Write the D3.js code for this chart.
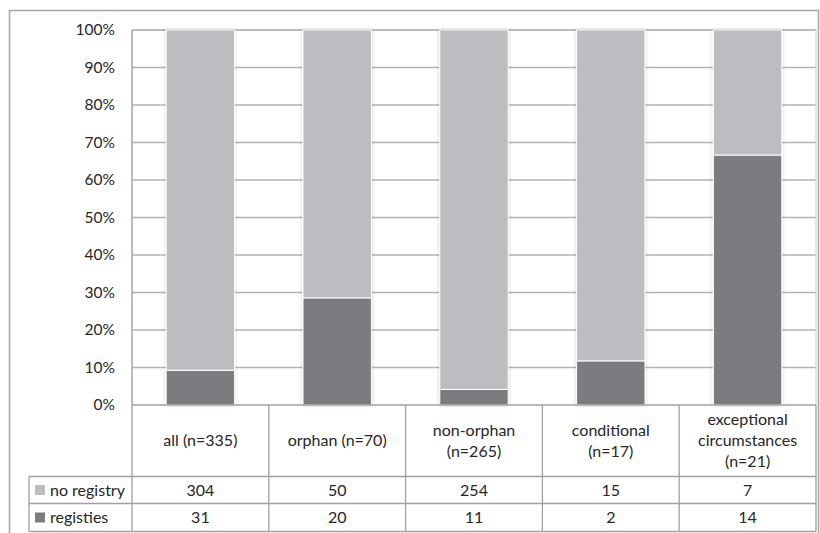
<!DOCTYPE html>
<html>
<head>
<meta charset="utf-8">
<script src="https://cdn.jsdelivr.net/npm/d3@7"></script>
<style>
  html, body { margin: 0; padding: 0; background: #ffffff; }
  svg { display: block; font-family: Lato, "Open Sans", sans-serif; }
</style>
</head>
<body>
<svg id="chart" width="820" height="533"></svg>
<script>
// Categories (multi-line labels) and counts per series
const categories = ["all", "orphan", "non-orphan", "conditional", "exceptional"];
const categoryLabels = [
  ["all (n=335)"],
  ["orphan (n=70)"],
  ["non-orphan", "(n=265)"],
  ["conditional", "(n=17)"],
  ["exceptional", "circumstances", "(n=21)"]
];
const seriesNames = ["no registry", "registies"];
const noRegistry = [304, 50, 254, 15, 7];
const registies = [31, 20, 11, 2, 14];
const yTicks = [0, 0.1, 0.2, 0.3, 0.4, 0.5, 0.6, 0.7, 0.8, 0.9, 1.0];

const colors = { "no registry": "#bcbdc0", "registies": "#7b7c80" };
const textColor = "#262626";
const tableFont = 16;

const svg = d3.select("#chart");
const plot = { left: 132, right: 816, top: 30, bottom: 405 };
const table = { legendLeft: 29, headerBottom: 476.5, row1Bottom: 503.5, row2Bottom: 531.5 };

// Outer frame
svg.append("rect")
  .attr("x", 9.5).attr("y", 10.5)
  .attr("width", 809).attr("height", 540)
  .attr("fill", "none").attr("stroke", "#a6a6a6").attr("stroke-width", 1.5);

// Soft shadow around the columns
const defs = svg.append("defs");
const f = defs.append("filter").attr("id", "glow")
  .attr("x", "-20%").attr("y", "-5%").attr("width", "140%").attr("height", "110%");
f.append("feGaussianBlur").attr("in", "SourceAlpha").attr("stdDeviation", 2).attr("result", "b");
f.append("feComponentTransfer").attr("in", "b").attr("result", "bs")
  .append("feFuncA").attr("type", "linear").attr("slope", 0.18);
const m = f.append("feMerge");
m.append("feMergeNode").attr("in", "bs");
m.append("feMergeNode").attr("in", "SourceGraphic");

// Scales
const x = d3.scaleBand().domain(categories).range([plot.left, plot.right])
  .paddingInner(0.5).paddingOuter(0.25);
const y = d3.scaleLinear().domain([0, 1]).range([plot.bottom, plot.top]);

// Gridlines
svg.append("g").selectAll("line").data(yTicks.filter(t => t > 0 && t < 1)).join("line")
  .attr("x1", plot.left).attr("x2", plot.right)
  .attr("y1", d => y(d)).attr("y2", d => y(d))
  .attr("stroke", "#b3b3b3").attr("stroke-width", 1.5);

// Plot frame (top, left, right)
svg.append("line").attr("x1", plot.left).attr("x2", plot.right)
  .attr("y1", plot.top).attr("y2", plot.top)
  .attr("stroke", "#a6a6a6").attr("stroke-width", 1.5);
svg.append("line").attr("x1", plot.left).attr("x2", plot.left)
  .attr("y1", plot.top).attr("y2", plot.bottom)
  .attr("stroke", "#a6a6a6").attr("stroke-width", 1.5);
svg.append("line").attr("x1", plot.right).attr("x2", plot.right)
  .attr("y1", plot.top).attr("y2", plot.bottom)
  .attr("stroke", "#d0d0d0").attr("stroke-width", 1);

// Stacked 100% columns
const rows = categories.map((c, i) => ({
  cat: c,
  "registies": registies[i] / (registies[i] + noRegistry[i]),
  "no registry": noRegistry[i] / (registies[i] + noRegistry[i])
}));
const stack = d3.stack().keys(["registies", "no registry"])(rows);

svg.append("g").attr("filter", "url(#glow)")
  .selectAll("g").data(stack).join("g")
  .attr("fill", d => colors[d.key])
  .selectAll("rect").data(d => d).join("rect")
  .attr("x", d => x(d.data.cat))
  .attr("width", x.bandwidth())
  .attr("y", d => y(d[1]))
  .attr("height", d => y(d[0]) - y(d[1]))
  .attr("stroke", "#ffffff").attr("stroke-width", 1);

// Y axis labels
const yAxis = d3.axisLeft(y).tickValues(yTicks).tickFormat(d3.format(".0%")).tickSize(0).tickPadding(17);
const ya = svg.append("g").attr("transform", `translate(${plot.left},0)`).call(yAxis);
ya.select(".domain").remove();
ya.selectAll("text").attr("font-size", 15.5).attr("fill", textColor)
  .attr("font-family", "Lato, 'Open Sans', sans-serif");

// Data table grid
const gridColor = "#a0a0a0";
const tg = svg.append("g").attr("stroke", gridColor).attr("stroke-width", 1.3);
tg.append("line").attr("x1", plot.left).attr("x2", plot.right).attr("y1", plot.bottom).attr("y2", plot.bottom);
[table.headerBottom, table.row1Bottom, table.row2Bottom].forEach(yy => {
  tg.append("line").attr("x1", table.legendLeft).attr("x2", plot.right).attr("y1", yy).attr("y2", yy);
});
const bounds = categories.map(c => x(c) - x.step() * x.paddingInner() / 2);
bounds[0] = plot.left;
bounds.push(plot.right);
bounds.forEach(bx => {
  tg.append("line").attr("x1", bx).attr("x2", bx).attr("y1", plot.bottom).attr("y2", table.row2Bottom);
});
tg.append("line").attr("x1", table.legendLeft).attr("x2", table.legendLeft)
  .attr("y1", table.headerBottom).attr("y2", table.row2Bottom);

// Category header labels
const headerMid = (plot.bottom + table.headerBottom) / 2;
const lineH = 21;
categories.forEach((c, i) => {
  const lines = categoryLabels[i];
  const cx = x(c) + x.bandwidth() / 2;
  const y0 = headerMid - (lines.length - 1) * lineH / 2;
  const t = svg.append("text").attr("text-anchor", "middle").attr("font-size", tableFont).attr("fill", textColor);
  lines.forEach((ln, k) => {
    t.append("tspan").attr("x", cx).attr("y", y0 + k * lineH).attr("dy", "0.35em").text(ln);
  });
});

// Value rows with legend keys
const seriesRows = [
  { name: seriesNames[0], values: noRegistry, top: table.headerBottom, bottom: table.row1Bottom },
  { name: seriesNames[1], values: registies, top: table.row1Bottom, bottom: table.row2Bottom }
];
seriesRows.forEach(r => {
  const my = (r.top + r.bottom) / 2;
  svg.append("rect").attr("x", 35).attr("y", my - 5).attr("width", 10).attr("height", 10)
    .attr("fill", colors[r.name]);
  svg.append("text").attr("x", 50).attr("y", my).attr("dy", "0.35em")
    .attr("font-size", tableFont).attr("fill", textColor).text(r.name);
  categories.forEach((c, i) => {
    svg.append("text").attr("x", x(c) + x.bandwidth() / 2).attr("y", my).attr("dy", "0.35em")
      .attr("text-anchor", "middle").attr("font-size", tableFont).attr("fill", textColor)
      .text(r.values[i]);
  });
});
</script>
</body>
</html>
